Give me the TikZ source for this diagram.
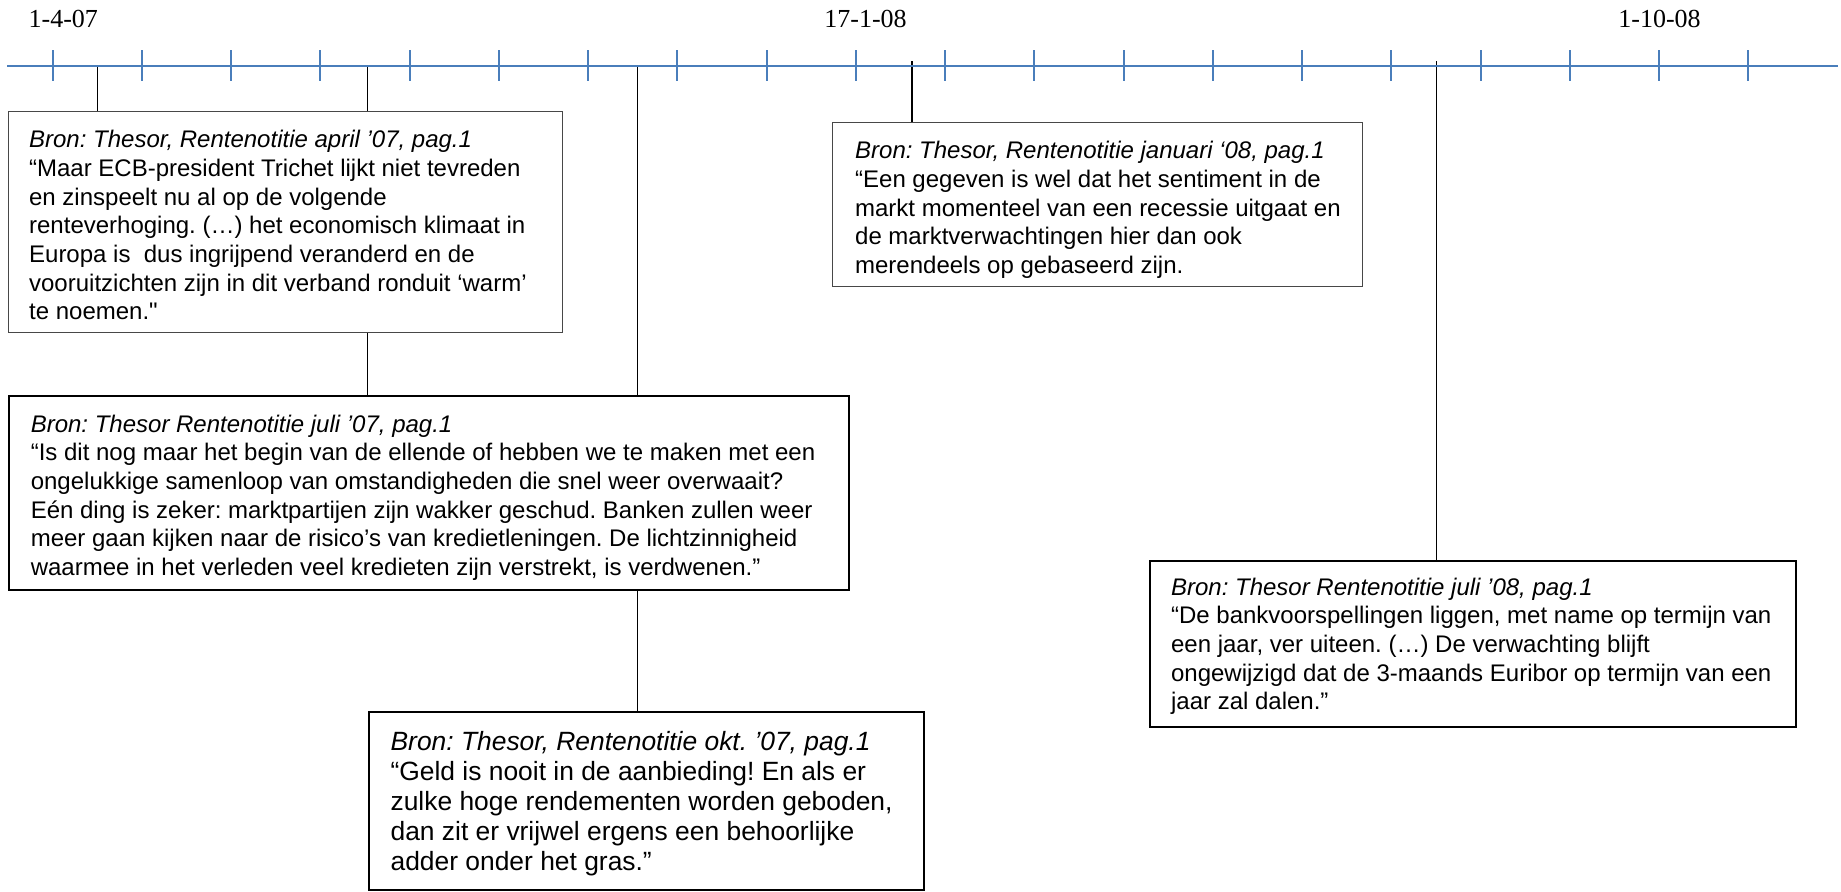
\documentclass[tikz,border=0pt]{standalone}
\usepackage{fontspec}
\setmainfont{Liberation Serif}
\newfontfamily\arialfont{Liberation Sans}[Ligatures=TeXOff]
\usetikzlibrary{backgrounds}

\definecolor{axisblue}{HTML}{4A7EBB}

% one drawing unit = half a point
\newdimen\pxu \pxu=0.5pt

% #1 width, #2 height, #3 left padding, #4 first baseline below top, #5 lines
\newcommand{\quotetext}[5]{%
  \parbox[t][#2\pxu][t]{#1\pxu}{\raggedright\frenchspacing\leftskip=#3\pxu\relax
    \vspace*{\dimexpr#4\pxu-.7\baselineskip\relax}\strut#5}}

\tikzset{
  quotebox/.style={draw, fill=white, inner sep=0pt, anchor=north west,
    font=\arialfont\fontsize{12}{14.35}\selectfont},
  thinquote/.style={quotebox, draw=black!72, line width=0.65pt},
  thickquote/.style={quotebox, draw=black, line width=1.1pt},
  axisline/.style={draw=axisblue, line width=1pt},
  datelabel/.style={anchor=base, inner sep=0pt, font=\fontsize{13}{15}\selectfont},
  leader/.style={draw=black, line width=0.75pt}
}

\begin{document}
\begin{tikzpicture}[x=0.5pt, y=-0.5pt]
\useasboundingbox (0,0) rectangle (1841,891);

% time axis with its ticks
\draw[axisline] (7,65.7) -- (1838,65.7);
\foreach \k in {0,...,19}
  \draw[axisline] ({52.6+89.25*\k},50) -- ++(0,31);

% dates above the axis
\node[datelabel] (d1) at (63.3,27) {1-4-07};
\node[datelabel] (d2) at (865.5,27) {17-1-08};
\node[datelabel] (d3) at (1659.5,27) {1-10-08};

% points on the axis where the quotes hang
\coordinate (a1) at (97.7,65.7);
\coordinate (a2) at (367.7,65.7);
\coordinate (a3) at (637.6,65.7);
\coordinate (a4) at (912.2,61);
\coordinate (a5) at (1436.3,61);

% quotes
\node[thinquote] (apr07) at (8,111) {\quotetext{554}{221}{20.5}{36}{%
\textit{Bron: Thesor, Rentenotitie april ’07, pag.1}\\
“Maar ECB-president Trichet lijkt niet tevreden\\
en zinspeelt nu al op de volgende\\
renteverhoging. (…) het economisch klimaat in\\
Europa is\ \ dus ingrijpend veranderd en de\\
vooruitzichten zijn in dit verband ronduit ‘warm’\\
te noemen."}};

\node[thickquote] (jul07) at (8,395) {\quotetext{840}{194}{21.7}{36}{%
\textit{Bron: Thesor Rentenotitie juli ’07, pag.1}\\
“Is dit nog maar het begin van de ellende of hebben we te maken met een\\
ongelukkige samenloop van omstandigheden die snel weer overwaait?\\
Eén ding is zeker: marktpartijen zijn wakker geschud. Banken zullen weer\\
meer gaan kijken naar de risico’s van kredietleningen. De lichtzinnigheid\\
waarmee in het verleden veel kredieten zijn verstrekt, is verdwenen.”}};

\node[thickquote, font=\arialfont\fontsize{13.2}{15}\selectfont] (okt07) at (368,711) {\quotetext{555}{178}{21.5}{38}{%
\textit{Bron: Thesor, Rentenotitie okt. ’07, pag.1}\\
“Geld is nooit in de aanbieding! En als er\\
zulke hoge rendementen worden geboden,\\
dan zit er vrijwel ergens een behoorlijke\\
adder onder het gras.”}};

\node[thinquote] (jan08) at (832,122) {\quotetext{530}{164}{22.5}{36}{%
\textit{Bron: Thesor, Rentenotitie januari ‘08, pag.1}\\
“Een gegeven is wel dat het sentiment in de\\
markt momenteel van een recessie uitgaat en\\
de marktverwachtingen hier dan ook\\
merendeels op gebaseerd zijn.}};

\node[thickquote] (jul08) at (1149,560) {\quotetext{646}{166}{21}{34}{%
\textit{Bron: Thesor Rentenotitie juli ’08, pag.1}\\
“De bankvoorspellingen liggen, met name op termijn van\\
een jaar, ver uiteen. (…) De verwachting blijft\\
ongewijzigd dat de 3-maands Euribor op termijn van een\\
jaar zal dalen.”}};

% leaders from the axis down to the quotes (behind the boxes)
\begin{scope}[on background layer]
  \draw[leader] (a1) -- (a1 |- apr07.north);
  \draw[leader] (a2) -- (a2 |- jul07.north);
  \draw[leader] (a3) -- (a3 |- okt07.north);
  \draw[leader] (a4) -- (a4 |- jan08.north);
  \draw[leader] (a5) -- (a5 |- jul08.north);
\end{scope}
\end{tikzpicture}
\end{document}
